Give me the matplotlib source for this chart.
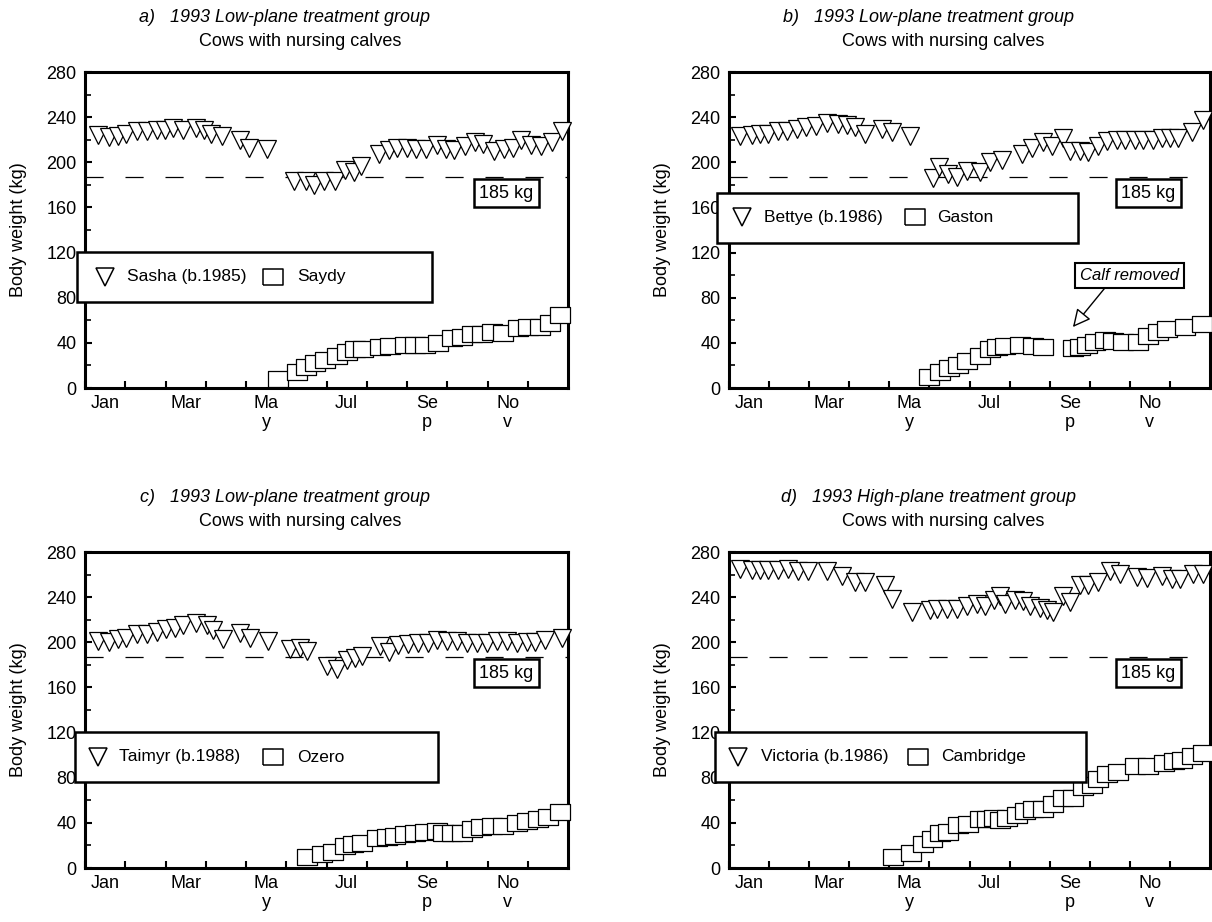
import matplotlib
matplotlib.use('Agg')
import matplotlib.pyplot as plt
from matplotlib.patches import Rectangle
from matplotlib.lines import Line2D

plt.rcParams['font.family'] = ['Liberation Sans', 'DejaVu Sans']

# months since Jan 1 (0..12) and body weights (kg)
sasha_m = [0.33, 0.6, 0.82, 1.03, 1.29, 1.54, 1.78, 1.98, 2.18, 2.43, 2.77, 2.95, 3.14, 3.41, 3.84, 4.08, 4.53,
           5.2, 5.49, 5.69, 5.94, 6.21, 6.46, 6.68, 6.86,
           7.3, 7.55, 7.75, 8.0, 8.22, 8.47, 8.74, 8.96, 9.18, 9.45, 9.7, 9.9, 10.15, 10.4, 10.64, 10.84,
           11.09, 11.34, 11.6, 11.85]
sasha_w = [224, 222, 223, 225, 228, 228, 229, 229, 230, 229, 230, 229, 225, 223, 220, 213, 212,
           183, 183, 180, 183, 183, 193, 191, 197,
           207, 211, 213, 213, 212, 212, 215, 212, 211, 214, 218, 216, 210, 212, 213, 220,
           215, 214, 218, 228]
saydy_m = [4.8, 5.27, 5.49, 5.71, 5.96, 6.26, 6.5, 6.7, 6.9, 7.33, 7.58, 7.95, 8.2, 8.45, 8.77, 9.12, 9.37,
           9.61, 9.86, 10.1, 10.39, 10.76, 11.0, 11.3, 11.55, 11.8]
saydy_w = [8, 14, 19, 22, 25, 28, 32, 35, 35, 36, 37, 38, 38, 38, 40, 44, 45,
           48, 48, 50, 49, 53, 54, 54, 58, 65]

bettye_m = [0.27, 0.57, 0.77, 0.98, 1.23, 1.44, 1.69, 1.92, 2.17, 2.44, 2.72, 2.94, 3.14, 3.39, 3.81, 4.06, 4.52,
            5.09, 5.24, 5.47, 5.68, 5.93, 6.26, 6.51, 6.8,
            7.3, 7.55, 7.84, 8.05, 8.34, 8.51, 8.76, 8.96, 9.21, 9.42, 9.67, 9.88, 10.13, 10.34, 10.59, 10.8,
            11.0, 11.2, 11.54, 11.83]
bettye_w = [223, 224, 225, 225, 228, 228, 229.5, 231, 232, 235, 234, 233, 231, 225, 229.5, 226.5, 223.5,
            186, 196, 190, 187, 192.5, 191, 200, 202,
            207.6, 212.7, 217.7, 214, 221.5, 209.7, 209.7, 208.7, 214, 218.6, 220, 220, 220, 220, 220, 221.5,
            221.5, 221.5, 226.5, 237.7]
gaston_m = [4.99, 5.26, 5.49, 5.71, 5.93, 6.26, 6.51, 6.68, 6.89, 7.26, 7.59, 7.84,
            8.58, 8.76, 8.92, 9.13, 9.38, 9.58, 9.83, 10.2, 10.45, 10.7, 10.92, 11.38, 11.79]
gaston_w = [9.5, 14.2, 17.4, 20.4, 24.2, 28.4, 34.8, 36.3, 37.2, 38.1, 37.2, 36.6,
            35.2, 36, 37.8, 40.8, 42.2, 42, 41, 41, 45.8, 49.9, 52.6, 54.3, 56.4]

taimyr_m = [0.33, 0.6, 0.83, 1.03, 1.3, 1.55, 1.78, 2.01, 2.24, 2.44, 2.77, 3.02, 3.19, 3.42, 3.85, 4.1, 4.55,
            5.09, 5.34, 5.51, 6.0, 6.25, 6.5, 6.71, 6.87,
            7.33, 7.56, 7.78, 8.03, 8.28, 8.53, 8.74, 8.99, 9.23, 9.48, 9.73, 9.98, 10.23, 10.48, 10.73,
            10.97, 11.18, 11.43, 11.85]
taimyr_w = [200.8, 200.3, 203, 204, 207.3, 207.6, 208.8, 211.8, 212.7, 215, 217, 215, 211, 203, 208, 203.8, 200.9,
            194, 194.7, 192, 179, 176.3, 184.6, 186, 187.6,
            197, 191, 197.9, 198.5, 199.4, 199.4, 201.7, 201.5, 200.8, 199.4, 199.4, 199.4, 200.8, 200.8, 199.4,
            200.3, 200, 201.7, 204]
ozero_m = [5.51, 5.88, 6.17, 6.46, 6.67, 6.87, 7.25, 7.5, 7.7, 7.95, 8.2, 8.45, 8.74, 8.9, 9.11, 9.36,
           9.61, 9.85, 10.1, 10.39, 10.73, 10.97, 11.26, 11.51, 11.8]
ozero_w = [9.5, 12.4, 14.5, 19.5, 21.6, 22.4, 26.3, 27.5, 28.6, 30.1, 31.3, 32.2, 33.1, 31.3, 31.3, 31.3,
           34.3, 36.1, 36.9, 36.9, 39.6, 41.9, 43.7, 45.2, 49.6]

victoria_m = [0.27, 0.57, 0.77, 0.98, 1.21, 1.48, 1.73, 1.98, 2.44, 2.81, 3.14, 3.39, 3.89, 4.06, 4.56,
              5.01, 5.18, 5.43, 5.68, 5.93, 6.18, 6.39, 6.6, 6.76, 6.89, 7.14, 7.34, 7.51, 7.76, 7.93,
              8.09, 8.34, 8.51, 8.76, 8.96, 9.21, 9.51, 9.76, 10.17, 10.42, 10.8, 11.05, 11.25, 11.58, 11.83]
victoria_w = [264.9, 264.3, 264.3, 264.3, 264.3, 264.9, 262.9, 262.9, 262.9, 259, 253.4, 253, 250.5, 238.6, 226.5,
              228.9, 229.5, 229.5, 229.5, 232.3, 234, 232.3, 237.2, 240.7, 234, 237.2, 236.3, 232.3, 230.4, 229,
              226.5, 240.7, 235.5, 251, 251, 253, 262.9, 260.7, 257.8, 257, 259, 256, 256, 260.7, 260.7]
cambridge_m = [4.08, 4.53, 4.85, 5.06, 5.26, 5.47, 5.72, 5.97, 6.26, 6.43, 6.6, 6.76, 6.93, 7.18, 7.39, 7.59,
               7.84, 8.09, 8.34, 8.59, 8.84, 9.05, 9.21, 9.42, 9.71, 10.13, 10.46, 10.84, 11.09, 11.29, 11.54, 11.83]
cambridge_w = [9.5, 13.6, 21, 25.4, 30.7, 32.2, 38.1, 39.3, 43.1, 43.7, 44, 42.5, 44, 46.7, 50.8, 52,
               52.2, 57, 62.3, 62, 71.8, 73.5, 79.1, 83.6, 85, 90.4, 90.1, 93, 94.8, 95.7, 99.2, 101.9]

month_labels = ['Jan', 'Mar', 'Ma\ny', 'Jul', 'Se\np', 'No\nv']
threshold = 187

W, H = 1212, 922
fig = plt.figure(figsize=(W / 100, H / 100), dpi=100)


def fx(x):
    return x / W


def fy(y):
    return 1 - y / H


rect_marker = [(-1, -0.78), (1, -0.78), (1, 0.78), (-1, 0.78), (-1, -0.78)]
TRI_MS = 12.5
SQ_MS = 14.5


def make_panel(rect, letter, group, cow_m, cow_w, calf_m, calf_w):
    ax = fig.add_axes(rect)
    ax.axhline(threshold, color='black', lw=0.9, dashes=(14.5, 17.5), zorder=1)
    ax.plot(cow_m, cow_w, ls='none', marker='v', ms=TRI_MS, mfc='white', mec='black', mew=0.9,
            clip_on=False, zorder=3)
    ax.plot(calf_m, calf_w, ls='none', marker=rect_marker, ms=SQ_MS, mfc='white', mec='black', mew=0.9,
            clip_on=False, zorder=3)
    ax.set_xlim(0, 12)
    ax.set_ylim(0, 280)
    ax.set_xticks([0.5, 2.5, 4.5, 6.5, 8.5, 10.5])
    ax.set_xticklabels(month_labels, fontsize=13, linespacing=1.15)
    ax.set_xticks(range(12), minor=True)
    ax.set_yticks(range(0, 281, 40))
    ax.set_yticks(range(20, 280, 40), minor=True)
    ax.tick_params(axis='x', which='major', length=0, pad=5)
    ax.tick_params(axis='x', which='minor', direction='in', length=5, width=1.5)
    ax.tick_params(axis='y', which='major', direction='in', length=5, width=1.5, labelsize=13, pad=6)
    ax.tick_params(axis='y', which='minor', direction='in', length=4, width=1.2)
    for s in ax.spines.values():
        s.set_linewidth(2.2)
    ax.set_ylabel('Body weight (kg)', fontsize=13)
    ax.yaxis.set_label_coords(-0.12, 0.5)
    ax.text(0.414, 1.174, letter + ')   1993 ' + group + ' treatment group', transform=ax.transAxes,
            ha='center', va='center', fontsize=13, style='italic')
    ax.text(0.445, 1.095, 'Cows with nursing calves', transform=ax.transAxes,
            ha='center', va='center', fontsize=13)
    ax.text(0.872, 0.617, '185 kg', transform=ax.transAxes, ha='center', va='center', fontsize=13,
            bbox=dict(boxstyle='square,pad=0.3', fc='white', ec='black', lw=1.8), zorder=5)
    return ax


def legend_box(x0, y0, x1, y1, tri_x, txt1_x, sq_x, txt2_x, yc, name1, name2):
    fig.add_artist(Rectangle((fx(x0), fy(y1)), fx(x1) - fx(x0), fy(y0) - fy(y1), transform=fig.transFigure,
                             fc='white', ec='black', lw=1.8, zorder=10))
    fig.add_artist(Line2D([fx(tri_x)], [fy(yc)], marker='v', ms=TRI_MS, mfc='white', mec='black', mew=1.1,
                          transform=fig.transFigure, zorder=11))
    fig.add_artist(Line2D([fx(sq_x)], [fy(yc)], marker=rect_marker, ms=SQ_MS, mfc='white', mec='black',
                          mew=1.1, transform=fig.transFigure, zorder=11))
    fig.text(fx(txt1_x), fy(yc), name1, ha='left', va='center', fontsize=12.5, zorder=12)
    fig.text(fx(txt2_x), fy(yc), name2, ha='left', va='center', fontsize=12.5, zorder=12)


top_b = 1 - 388 / H
bot_b = 1 - 868 / H
hgt = 316 / H
left_a = 85 / W
left_b = 729 / W

ax_a = make_panel([left_a, top_b, 483 / W, hgt], 'a', 'Low-plane', sasha_m, sasha_w, saydy_m, saydy_w)
ax_b = make_panel([left_b, top_b, 481 / W, hgt], 'b', 'Low-plane', bettye_m, bettye_w, gaston_m, gaston_w)
ax_c = make_panel([left_a, bot_b, 483 / W, hgt], 'c', 'Low-plane', taimyr_m, taimyr_w, ozero_m, ozero_w)
ax_d = make_panel([left_b, bot_b, 481 / W, hgt], 'd', 'High-plane', victoria_m, victoria_w,
                  cambridge_m, cambridge_w)

ax_b.annotate('Calf removed', xy=(8.58, 54), xytext=(9.98, 100), fontsize=12, style='italic',
              ha='center', va='center',
              bbox=dict(boxstyle='square,pad=0.3', fc='white', ec='black', lw=1.5),
              arrowprops=dict(arrowstyle='-|>,head_length=0.9,head_width=0.45', fc='white', ec='black',
                              lw=1, relpos=(0.3, 0), shrinkA=0, shrinkB=0))

legend_box(77, 252, 432, 302, 105, 127, 273, 297, 277, 'Sasha (b.1985)', 'Saydy')
legend_box(717, 193, 1078, 243, 742, 764, 915, 937, 217, 'Bettye (b.1986)', 'Gaston')
legend_box(75, 732, 438, 782, 98, 119, 273, 297, 757, 'Taimyr (b.1988)', 'Ozero')
legend_box(715, 732, 1086, 782, 738, 761, 918, 941, 757, 'Victoria (b.1986)', 'Cambridge')

fig.savefig('out.png', dpi=100)
